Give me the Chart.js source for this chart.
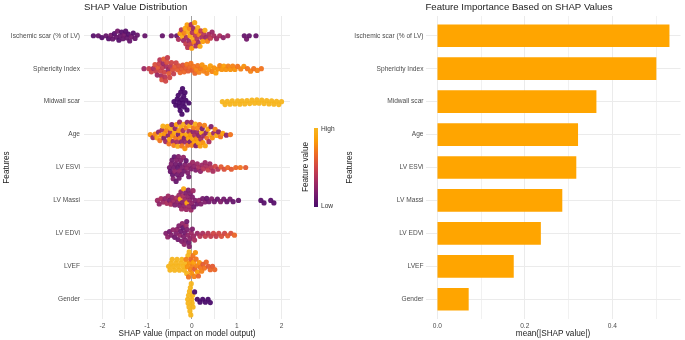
<!DOCTYPE html>
<html>
<head>
<meta charset="utf-8">
<script src="https://cdn.jsdelivr.net/npm/chart.js@4.4.1/dist/chart.umd.min.js"></script>
<style>
  body { margin: 0; background: #fff; }
  canvas { position: absolute; top: 0; }
  #shap { left: 0; }
  #importance { left: 345px; }
</style>
</head>
<body>
<canvas id="shap" width="345" height="340"></canvas>
<canvas id="importance" width="340" height="340"></canvas>
<script>
const features = ['Ischemic scar (% of LV)', 'Sphericity Index', 'Midwall scar', 'Age', 'LV ESVi', 'LV Massi', 'LV EDVi', 'LVEF', 'Gender'];

// each point: [SHAP value, scaled feature value 0 (low) .. 1 (high)]
const ischemicScar = [
  [-2.20, .05], [-2.09, .1], [-2.01, .05],
  [-1.92, .1], [-1.86, .05], [-1.81, .15], [-1.77, .1], [-1.73, .05], [-1.69, .1], [-1.66, .15], [-1.63, .05], [-1.60, .1], [-1.57, .05],
  [-1.54, .1], [-1.51, .15], [-1.48, .05], [-1.45, .1], [-1.42, .05], [-1.39, .1], [-1.35, .15], [-1.31, .05], [-1.27, .1], [-1.22, .1],
  [-1.05, .1], [-0.66, .1], [-0.46, .15], [-0.34, .1],
  [-0.30, .35], [-0.265, .85], [-0.235, .4], [-0.209, .95], [-0.187, .3], [-0.168, .75], [-0.151, .9], [-0.136, .45],
  [-0.122, .35], [-0.108, .85], [-0.095, .4], [-0.082, .95], [-0.069, .3], [-0.056, .75], [-0.043, .9], [-0.030, .45],
  [-0.017, .35], [-0.004, .85], [0.009, .4], [0.022, .95], [0.035, .3], [0.048, .75], [0.061, .9], [0.074, .45],
  [0.087, .35], [0.100, .85], [0.114, .4], [0.129, .95], [0.145, .3], [0.162, .75], [0.180, .9], [0.199, .45],
  [0.220, .35], [0.242, .85], [0.265, .4], [0.290, .95], [0.317, .3], [0.346, .75], [0.378, .35], [0.413, .45],
  [0.45, .3], [0.49, .35],
  [0.55, .3], [0.62, .35], [0.70, .25], [0.80, .3],
  [1.17, .1], [1.22, .15], [1.28, .1], [1.43, .1]
];
const sphericityIndex = [
  [-1.07, .3],
  [-0.96, .45], [-0.905, .5], [-0.86, .35], [-0.825, .55], [-0.797, .45], [-0.773, .3], [-0.752, .6], [-0.733, .5],
  [-0.716, .4], [-0.700, .5], [-0.685, .35], [-0.671, .55], [-0.657, .45], [-0.643, .3], [-0.629, .6], [-0.615, .5],
  [-0.601, .4], [-0.587, .5], [-0.573, .35], [-0.559, .55], [-0.545, .45], [-0.530, .3], [-0.514, .6], [-0.497, .5],
  [-0.478, .4], [-0.457, .5], [-0.434, .55], [-0.409, .45], [-0.382, .6], [-0.353, .5],
  [-0.323, .6], [-0.293, .55], [-0.263, .65], [-0.233, .6], [-0.203, .55], [-0.173, .65], [-0.143, .6], [-0.113, .7],
  [-0.083, .6], [-0.053, .65], [-0.023, .7], [0.007, .6], [0.037, .7], [0.067, .65], [0.097, .75], [0.128, .7],
  [0.160, .75], [0.193, .7], [0.227, .8], [0.262, .75], [0.298, .8],
  [0.335, .75], [0.373, .8], [0.412, .85], [0.452, .75], [0.493, .8], [0.535, .85], [0.578, .8], [0.622, .75],
  [0.667, .8], [0.713, .85], [0.76, .8], [0.81, .75], [0.86, .8], [0.91, .75], [0.96, .8],
  [1.02, .7], [1.09, .75], [1.16, .8], [1.24, .7], [1.31, .75], [1.38, .7], [1.46, .75], [1.55, .7]
];
const midwallScar = [
  [-0.40, 0], [-0.36, 0], [-0.33, 0], [-0.305, 0], [-0.29, 0], [-0.275, 0], [-0.262, 0], [-0.249, 0], [-0.236, 0],
  [-0.223, 0], [-0.21, 0], [-0.197, 0], [-0.184, 0], [-0.17, 0], [-0.155, 0], [-0.135, 0], [-0.11, 0], [-0.07, 0],
  [0.68, 1], [0.74, 1], [0.79, 1], [0.85, 1], [0.90, 1], [0.96, 1], [1.02, 1], [1.07, 1], [1.12, 1], [1.18, 1], [1.23, 1], [1.29, 1],
  [1.34, 1], [1.40, 1], [1.45, 1], [1.50, 1], [1.56, 1], [1.61, 1], [1.67, 1], [1.72, 1], [1.78, 1], [1.83, 1], [1.89, 1], [1.94, 1], [2.0, 1]
];
const age = [
  [-0.93, .8], [-0.87, .3], [-0.82, .75], [-0.78, .9], [-0.745, .25], [-0.715, .7], [-0.69, .85], [-0.668, .35], [-0.647, .95], [-0.627, .2],
  [-0.607, .8], [-0.587, .3], [-0.567, .75], [-0.548, .9], [-0.530, .25], [-0.513, .7], [-0.497, .85], [-0.481, .35], [-0.465, .95], [-0.449, .2],
  [-0.434, .8], [-0.419, .3], [-0.404, .75], [-0.389, .9], [-0.374, .25], [-0.359, .7], [-0.345, .85], [-0.331, .35], [-0.317, .95], [-0.303, .2],
  [-0.289, .8], [-0.275, .3], [-0.261, .75], [-0.248, .9], [-0.235, .25], [-0.222, .7], [-0.209, .85], [-0.196, .35], [-0.183, .95], [-0.170, .2],
  [-0.157, .8], [-0.144, .3], [-0.131, .75], [-0.118, .9], [-0.105, .25], [-0.092, .7], [-0.079, .85], [-0.066, .35], [-0.053, .95], [-0.040, .2],
  [-0.027, .8], [-0.014, .3], [-0.001, .75], [0.012, .9], [0.025, .25], [0.038, .7], [0.051, .85], [0.064, .35], [0.077, .95], [0.090, .2],
  [0.103, .8], [0.116, .3], [0.129, .75], [0.142, .9], [0.156, .25], [0.170, .7], [0.184, .85], [0.199, .35], [0.214, .95], [0.230, .2],
  [0.246, .8], [0.263, .3], [0.280, .75], [0.298, .9], [0.317, .25], [0.337, .7], [0.358, .85], [0.380, .35], [0.403, .95], [0.428, .2],
  [0.455, .8], [0.485, .3], [0.518, .75], [0.555, .9], [0.595, .25], [0.64, .7], [0.69, .85], [0.77, .25], [0.86, .7]
];
const lvEsvi = [
  [-0.50, .15], [-0.48, .1], [-0.46, .2],
  [-0.445, .15], [-0.432, .1], [-0.419, .2], [-0.406, .15], [-0.393, .1], [-0.38, .25], [-0.367, .15], [-0.354, .1],
  [-0.341, .2], [-0.328, .15], [-0.315, .1], [-0.302, .2], [-0.289, .15], [-0.276, .25], [-0.263, .1], [-0.25, .2],
  [-0.23, .15], [-0.21, .2], [-0.19, .25], [-0.17, .15], [-0.15, .2], [-0.13, .1], [-0.11, .25], [-0.09, .2], [-0.07, .15], [-0.05, .25],
  [-0.02, .2], [0.015, .3], [0.05, .25], [0.085, .2], [0.12, .3], [0.155, .35], [0.19, .25], [0.225, .3], [0.26, .4], [0.295, .3],
  [0.33, .35], [0.365, .45], [0.40, .3], [0.435, .4], [0.47, .35],
  [0.52, .5], [0.58, .4], [0.65, .6], [0.72, .55], [0.80, .65], [0.88, .6],
  [0.98, .65], [1.08, .7], [1.20, .6]
];
const lvMassi = [
  [-0.77, .3], [-0.73, .25], [-0.69, .35], [-0.645, .3], [-0.60, .25], [-0.56, .35],
  [-0.53, .3], [-0.50, .2], [-0.47, .35], [-0.44, .25], [-0.41, .3], [-0.38, .2], [-0.35, .35], [-0.32, .25],
  [-0.29, .3], [-0.275, .2], [-0.26, .9], [-0.245, .25], [-0.23, .3], [-0.215, .2], [-0.20, .35], [-0.185, .9], [-0.17, .25], [-0.155, .3],
  [-0.14, .2], [-0.125, .3], [-0.11, .85], [-0.095, .25], [-0.08, .2], [-0.065, .3], [-0.05, .25], [-0.035, .2], [-0.02, .3], [-0.005, .25],
  [0.01, .2], [0.025, .3], [0.04, .15],
  [0.07, .2], [0.11, .15], [0.16, .25], [0.20, .2], [0.24, .15], [0.29, .2], [0.33, .1], [0.38, .15],
  [0.44, .2], [0.50, .15], [0.57, .1], [0.64, .2], [0.71, .15], [0.78, .1], [0.85, .15], [0.92, .1],
  [1.04, .1], [1.54, .05], [1.61, .05], [1.76, .05], [1.83, .05]
];
const lvEdvi = [
  [-0.58, .2], [-0.54, .25], [-0.50, .15], [-0.46, .2], [-0.42, .25], [-0.385, .15], [-0.35, .2],
  [-0.33, .25], [-0.31, .15], [-0.29, .2], [-0.27, .25], [-0.25, .15], [-0.23, .2],
  [-0.215, .25], [-0.20, .1], [-0.186, .2], [-0.172, .25], [-0.158, .15], [-0.144, .2], [-0.13, .3], [-0.116, .15], [-0.102, .2], [-0.088, .25], [-0.074, .15], [-0.06, .2],
  [-0.04, .25], [-0.015, .3], [0.01, .2], [0.035, .3],
  [0.06, .35], [0.12, .3], [0.18, .4], [0.24, .35], [0.30, .45], [0.36, .4], [0.42, .45], [0.48, .5], [0.54, .45], [0.60, .5],
  [0.66, .55], [0.73, .5], [0.80, .6], [0.87, .55], [0.95, .65]
];
const lvef = [
  [-0.52, 1], [-0.49, 1], [-0.465, 1], [-0.44, 1], [-0.413, 1], [-0.386, 1], [-0.359, 1], [-0.332, 1], [-0.305, 1],
  [-0.278, 1], [-0.251, 1], [-0.224, 1], [-0.197, 1], [-0.17, 1], [-0.143, 1], [-0.116, 1], [-0.089, 1], [-0.062, 1],
  [-0.13, .75], [-0.10, .8], [-0.075, .7], [-0.054, .8], [-0.036, .75], [-0.020, .65], [-0.005, .8], [0.009, .75], [0.023, .7],
  [0.037, .85], [0.050, .75], [0.064, .6], [0.078, .8], [0.093, .7], [0.109, .75], [0.126, .85], [0.145, .65], [0.166, .8],
  [0.19, .7], [0.217, .75], [0.247, .6], [0.28, .7], [0.32, .65], [0.365, .6], [0.41, .65], [0.46, .6], [0.51, .65]
];
const gender = [
  [-0.095, 1], [-0.085, 1], [-0.075, 1], [-0.065, 1], [-0.055, 1], [-0.045, 1], [-0.035, 1],
  [-0.025, 1], [-0.015, 1], [-0.005, 1], [0.005, 1], [0.015, 1], [0.025, 1],
  [0.06, 0], [0.12, 0], [0.18, 0], [0.24, 0], [0.30, 0], [0.36, 0], [0.41, 0]
];
const shapByFeature = [ischemicScar, sphericityIndex, midwallScar, age, lvEsvi, lvMassi, lvEdvi, lvef, gender];

const meanAbsShap = [0.530, 0.500, 0.363, 0.321, 0.317, 0.285, 0.236, 0.174, 0.071];

const shapTicks = [-2, -1, 0, 1, 2];
const shapGrid = [-2, -1.5, -1, -0.5, 0, 0.5, 1, 1.5, 2];
const importanceTicks = [0, 0.2, 0.4];
const importanceGrid = [0, 0.1, 0.2, 0.3, 0.4, 0.5];

const FONT = "'Liberation Sans', Arial, sans-serif";
Chart.defaults.font.family = FONT;

// inferno-like ramp used for the feature value colour
const ramp = ['#4a0c6b', '#781c6d', '#a52c60', '#cf4446', '#ed6925', '#fb9b06', '#f7b51e'];
const rgb = h => [1, 3, 5].map(i => parseInt(h.slice(i, i + 2), 16));
function featureColor(t) {
  const s = t * (ramp.length - 1);
  const i = Math.min(Math.floor(s), ramp.length - 2);
  const f = s - i;
  const a = rgb(ramp[i]), b = rgb(ramp[i + 1]);
  const c = a.map((v, k) => Math.round(v + (b[k] - v) * f));
  return `rgba(${c[0]},${c[1]},${c[2]},0.95)`;
}

// simple beeswarm: place points in x order at the smallest offset without overlap
function swarm(px, d) {
  const order = px.map((_, i) => i).sort((a, b) => px[a] - px[b]);
  const placed = [];
  const out = new Array(px.length).fill(0);
  for (const i of order) {
    const x = px[i];
    const near = placed.filter(p => Math.abs(p.x - x) < d);
    const cands = [0];
    near.forEach(p => {
      const h = Math.sqrt(d * d - (p.x - x) * (p.x - x));
      cands.push(p.y + h, p.y - h);
    });
    cands.sort((a, b) => Math.abs(a) - Math.abs(b));
    let y = 0;
    for (const c of cands) {
      if (near.every(p => (p.x - x) ** 2 + (p.y - c) ** 2 >= d * d - 0.01)) { y = c; break; }
    }
    placed.push({ x, y });
    out[i] = y;
  }
  return out;
}

const gridColor = v => v === 0 ? '#a0a0a0' : '#ebebeb';
const featureTicks = {
  padding: 4, color: '#4d4d4d', font: { size: 6.6 }, autoSkip: false,
  callback: v => features[v - 1]
};

const shapText = {
  id: 'shapText',
  afterDraw(chart) {
    const { ctx, chartArea: a } = chart;
    ctx.save();
    ctx.fillStyle = '#222';
    ctx.textBaseline = 'middle';
    ctx.font = `9.6px ${FONT}`;
    ctx.textAlign = 'left';
    ctx.fillText('SHAP Value Distribution', a.left, 7.5);
    ctx.font = `8.2px ${FONT}`;
    ctx.textAlign = 'center';
    ctx.fillText('SHAP value (impact on model output)', (a.left + a.right) / 2, 334);
    ctx.save();
    ctx.translate(7, (a.top + a.bottom) / 2);
    ctx.rotate(-Math.PI / 2);
    ctx.fillText('Features', 0, 0);
    ctx.restore();
    ctx.save();
    ctx.translate(306, 167);
    ctx.rotate(-Math.PI / 2);
    ctx.fillText('Feature value', 0, 0);
    ctx.restore();
    // colour bar
    const g = ctx.createLinearGradient(0, 207, 0, 128);
    ramp.forEach((c, i) => g.addColorStop(i / (ramp.length - 1), c));
    ctx.fillStyle = g;
    ctx.fillRect(314, 128, 4, 79);
    ctx.fillStyle = '#333';
    ctx.font = `6.6px ${FONT}`;
    ctx.textAlign = 'left';
    ctx.fillText('High', 321, 129.5);
    ctx.fillText('Low', 321, 206.5);
    ctx.restore();
  }
};

const importanceText = {
  id: 'importanceText',
  afterDraw(chart) {
    const { ctx, chartArea: a } = chart;
    ctx.save();
    ctx.fillStyle = '#222';
    ctx.textBaseline = 'middle';
    ctx.font = `9.6px ${FONT}`;
    ctx.textAlign = 'left';
    ctx.fillText('Feature Importance Based on SHAP Values', a.left, 7.5);
    ctx.font = `8.2px ${FONT}`;
    ctx.textAlign = 'center';
    ctx.fillText('mean(|SHAP value|)', (a.left + a.right) / 2, 334);
    ctx.translate(5, (a.top + a.bottom) / 2);
    ctx.rotate(-Math.PI / 2);
    ctx.fillText('Features', 0, 0);
    ctx.restore();
  }
};

const shapChart = new Chart(document.getElementById('shap'), {
  type: 'scatter',
  data: {
    datasets: shapByFeature.map((pts, row) => ({
      data: pts.map(p => ({ x: p[0], y: row + 1 })),
      pointBackgroundColor: pts.map(p => featureColor(p[1])),
      pointRadius: 2.6,
      pointHoverRadius: 2.6,
      pointBorderWidth: 0
    }))
  },
  options: {
    responsive: false,
    animation: false,
    layout: { padding: { top: 16, right: 55 } },
    plugins: { legend: { display: false }, tooltip: { enabled: false } },
    scales: {
      x: {
        type: 'linear', min: -2.41, max: 2.19,
        afterBuildTicks: s => { s.ticks = shapGrid.map(v => ({ value: v })); },
        afterFit: s => { s.height = 21; },
        border: { display: false },
        grid: { color: c => gridColor(c.tick && c.tick.value), drawTicks: false },
        ticks: {
          padding: 3, color: '#4d4d4d', font: { size: 6.6 }, autoSkip: false, maxRotation: 0,
          callback: v => shapTicks.includes(v) ? String(v) : ''
        }
      },
      y: {
        type: 'linear', reverse: true, min: 0.4, max: 9.6,
        afterBuildTicks: s => { s.ticks = features.map((_, i) => ({ value: i + 1 })); },
        afterFit: s => { s.width = 84; },
        border: { display: false },
        grid: { color: '#ebebeb', drawTicks: false },
        ticks: featureTicks
      }
    }
  },
  plugins: [shapText]
});

// spread the points of each row into a beeswarm using the chart's own scales
(function applySwarm(chart) {
  const xs = chart.scales.x, ys = chart.scales.y;
  const unit = Math.abs(ys.getPixelForValue(2) - ys.getPixelForValue(1));
  chart.data.datasets.forEach((ds, row) => {
    const pts = shapByFeature[row];
    const off = swarm(pts.map(p => xs.getPixelForValue(p[0])), 4);
    ds.data = pts.map((p, i) => ({ x: p[0], y: row + 1 + off[i] / unit }));
  });
  chart.update('none');
})(shapChart);

new Chart(document.getElementById('importance'), {
  type: 'bar',
  data: {
    datasets: [{
      data: meanAbsShap.map((v, i) => ({ x: v, y: i + 1 })),
      backgroundColor: '#ffa500',
      borderWidth: 0,
      barThickness: 22
    }]
  },
  options: {
    indexAxis: 'y',
    responsive: false,
    animation: false,
    layout: { padding: { top: 16, right: 4.5 } },
    plugins: { legend: { display: false }, tooltip: { enabled: false } },
    scales: {
      x: {
        type: 'linear', min: -0.027, max: 0.556,
        afterBuildTicks: s => { s.ticks = importanceGrid.map(v => ({ value: v })); },
        afterFit: s => { s.height = 21; },
        border: { display: false },
        grid: { color: c => importanceTicks.includes(c.tick && c.tick.value) ? '#ebebeb' : '#f1f1f1', drawTicks: false },
        ticks: {
          padding: 3, color: '#4d4d4d', font: { size: 6.6 }, autoSkip: false, maxRotation: 0,
          callback: v => importanceTicks.includes(v) ? v.toFixed(1) : ''
        }
      },
      y: {
        type: 'linear', reverse: true, min: 0.4, max: 9.6, offset: false,
        afterBuildTicks: s => { s.ticks = features.map((_, i) => ({ value: i + 1 })); },
        afterFit: s => { s.width = 80.5; },
        border: { display: false },
        grid: { color: '#ebebeb', drawTicks: false, offset: false },
        ticks: Object.assign({}, featureTicks, { padding: 2 })
      }
    }
  },
  plugins: [importanceText]
});
</script>
</body>
</html>
